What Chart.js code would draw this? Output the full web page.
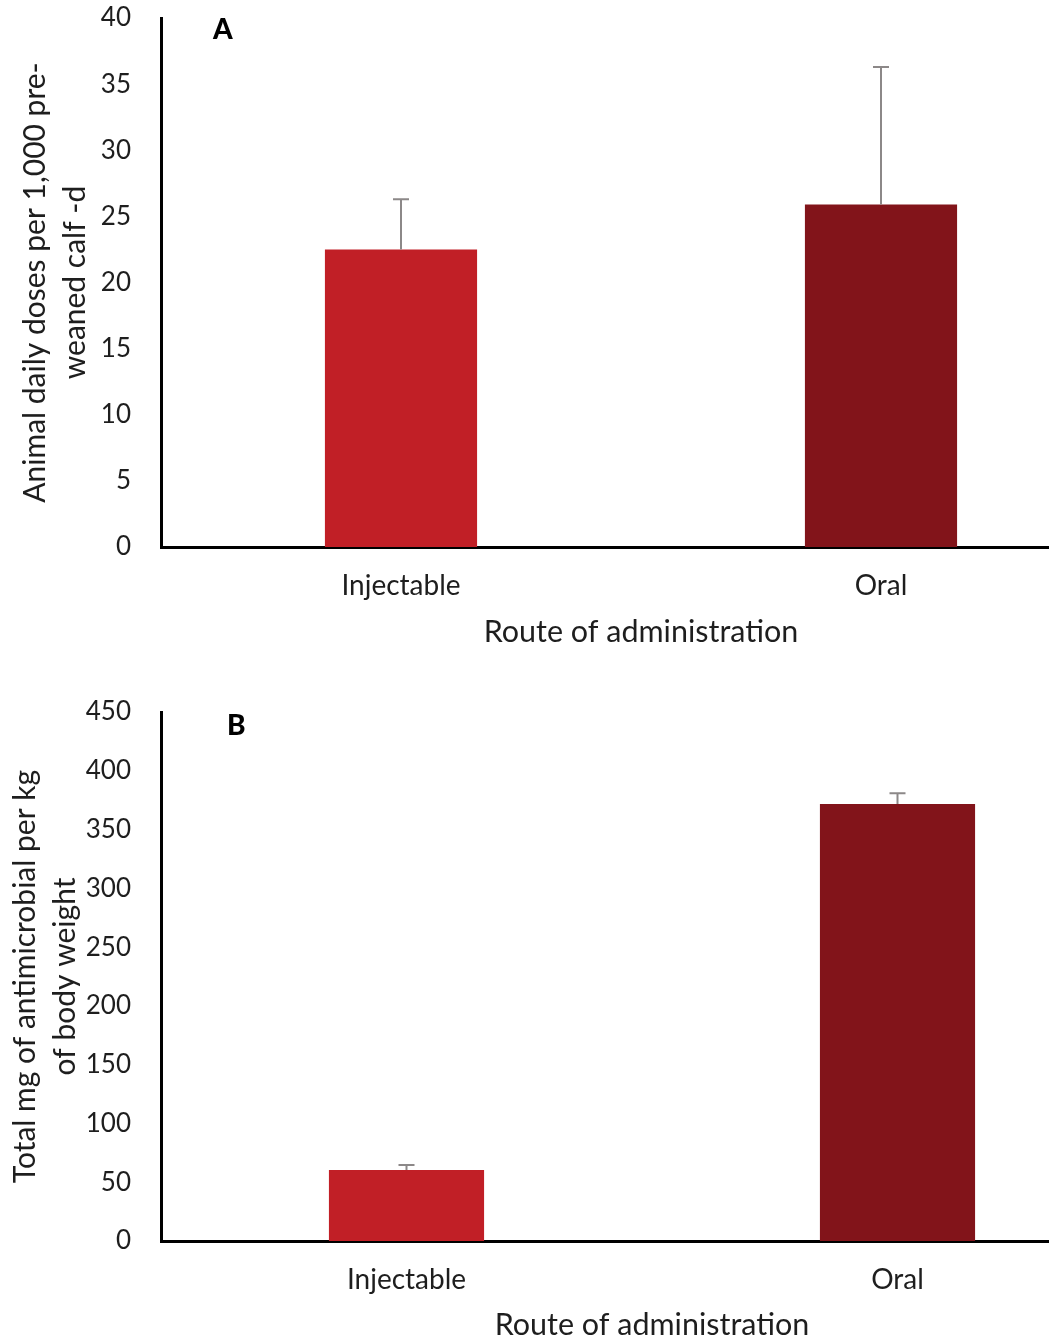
<!DOCTYPE html>
<html>
<head>
<meta charset="utf-8">
<script src="https://cdn.jsdelivr.net/npm/chart.js@4.4.0/dist/chart.umd.min.js"></script>
<style>
  html, body { margin: 0; padding: 0; background: #fff; overflow: hidden; width: 1049px; height: 1339px; }
  .box { position: absolute; left: 0; }
  #boxA { top: 0; width: 1121px; height: 655px; }
  #boxB { top: 690px; width: 1143px; height: 649px; }
</style>
</head>
<body>
<div class="box" id="boxA"><canvas id="chartA"></canvas></div>
<div class="box" id="boxB"><canvas id="chartB"></canvas></div>
<script>
// data
var routes = ["Injectable", "Oral"];

// panel A: animal daily doses per 1,000 pre-weaned calf-d
var dosesMean = [22.5, 25.9];
var dosesErr = [3.8, 10.4];
var dosesMax = 40;
var dosesStep = 5;

// panel B: total mg of antimicrobial per kg of body weight
var mgMean = [60.5, 371.8];
var mgErr = [4.2, 9.0];
var mgMax = 450;
var mgStep = 50;

var barColors = ["#c11f26", "#82141a"];
var fontFamily = "Lato, 'Open Sans', sans-serif";
var textColor = "#1e1e1e";

// draws the upper error whisker of each bar through the y scale
var errorBars = {
  id: "errorBars",
  afterDatasetsDraw: function(chart, args, opts) {
    var ctx = chart.ctx;
    var yScale = chart.scales.y;
    chart.data.datasets.forEach(function(ds, i) {
      var meta = chart.getDatasetMeta(i);
      meta.data.forEach(function(bar, j) {
        var top = yScale.getPixelForValue(ds.data[j] + ds.errors[j]);
        ctx.save();
        ctx.strokeStyle = opts.color;
        ctx.lineWidth = opts.width;
        ctx.beginPath();
        ctx.moveTo(bar.x, bar.y);
        ctx.lineTo(bar.x, top);
        ctx.moveTo(bar.x - opts.cap / 2, top);
        ctx.lineTo(bar.x + opts.cap / 2, top);
        ctx.stroke();
        ctx.restore();
      });
    });
  }
};

// panel letter (A / B)
var panelLabel = {
  id: "panelLabel",
  afterDraw: function(chart, args, opts) {
    var ctx = chart.ctx;
    var area = chart.chartArea;
    ctx.save();
    ctx.font = "900 28px " + fontFamily;
    ctx.fillStyle = "#000";
    ctx.textBaseline = "middle";
    ctx.fillText(opts.text, area.left + opts.dx, area.top + opts.dy);
    ctx.restore();
  }
};

function makeChart(id, means, errs, yMax, yStep, yTitle, o) {
  return new Chart(id, {
    type: "bar",
    data: {
      labels: routes,
      datasets: [{
        data: means,
        errors: errs,
        backgroundColor: barColors,
        borderWidth: 0,
        barPercentage: o.barPct,
        categoryPercentage: 1
      }]
    },
    options: {
      responsive: true,
      maintainAspectRatio: false,
      animation: false,
      layout: { padding: { top: o.padTop, left: 0, right: 0, bottom: 0 } },
      plugins: {
        legend: { display: false },
        tooltip: { enabled: false },
        errorBars: { color: "#8c8888", width: 2, cap: 16 },
        panelLabel: { text: o.letter, dx: o.letterDx, dy: o.letterDy }
      },
      scales: {
        x: {
          grid: { display: false },
          border: { color: "#000", width: 3 },
          ticks: { color: textColor, padding: o.tickPad, font: { family: fontFamily, size: 28 } },
          title: {
            display: true,
            text: "Route of administration",
            color: textColor,
            padding: { top: 0, bottom: o.titlePadBottom },
            font: { family: fontFamily, size: 30.5, lineHeight: 1.2 }
          },
          afterFit: function(scale) { scale.height = o.xHeight; }
        },
        y: {
          min: 0,
          max: yMax,
          grid: { display: false },
          border: { color: "#000", width: 3 },
          ticks: { stepSize: yStep, color: textColor, padding: 22, font: { family: fontFamily, size: 26 } },
          title: {
            display: true,
            text: yTitle,
            color: textColor,
            padding: { top: o.yTitlePad, bottom: 0 },
            font: { family: fontFamily, size: 30, lineHeight: 1.35 }
          },
          afterFit: function(scale) {
            scale.width = 161;
            scale.paddingTop = 0;
            scale.paddingBottom = 0;
          }
        }
      }
    },
    plugins: [errorBars, panelLabel]
  });
}

makeChart("chartA", dosesMean, dosesErr, dosesMax, dosesStep,
  ["Animal daily doses per 1,000 pre-", "weaned calf -d"],
  { barPct: 0.317, padTop: 18, xHeight: 108, tickPad: 14, titlePadBottom: 5, yTitlePad: 15,
    letter: "A", letterDx: 52, letterDy: 12 });

makeChart("chartB", mgMean, mgErr, mgMax, mgStep,
  ["Total mg of antimicrobial per kg", "of body weight"],
  { barPct: 0.316, padTop: 22, xHeight: 98, tickPad: 14, titlePadBottom: -4, yTitlePad: 5,
    letter: "B", letterDx: 66, letterDy: 14 });
</script>
</body>
</html>
